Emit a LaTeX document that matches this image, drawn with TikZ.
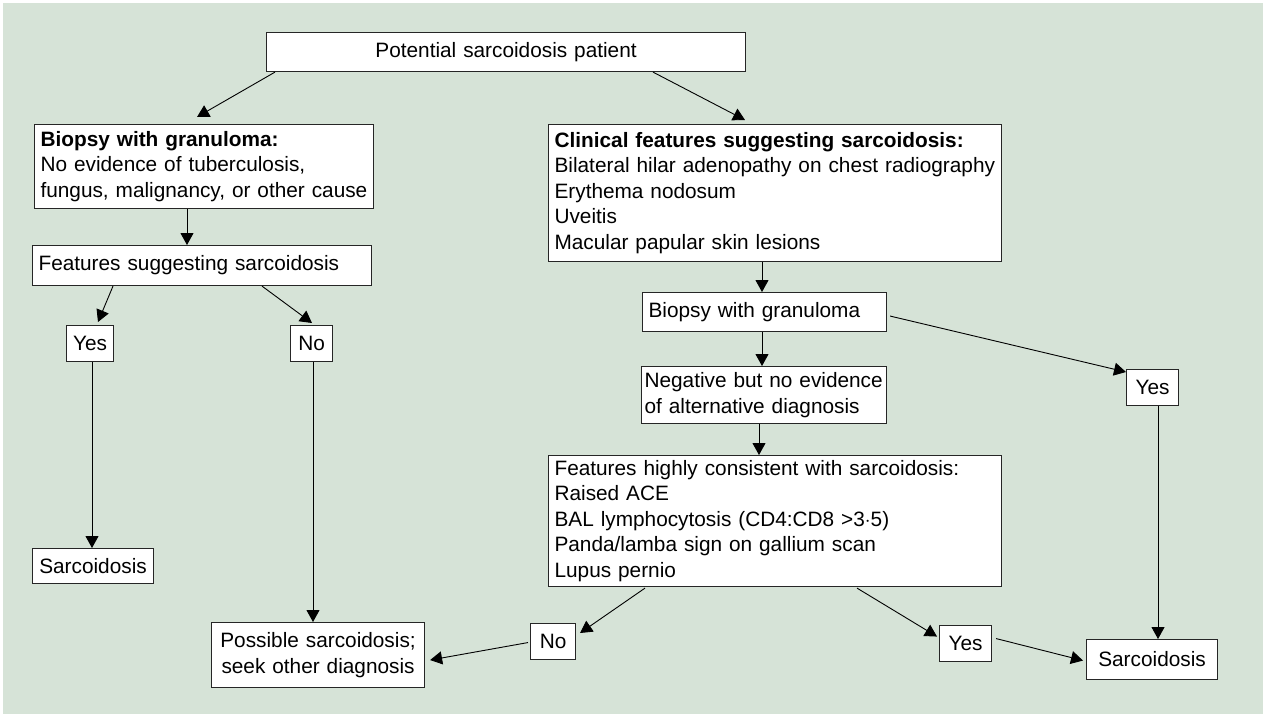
\documentclass[tikz,border=0pt]{standalone}
\usepackage{fontspec}
\setmainfont{Liberation Sans}
\usetikzlibrary{arrows.meta,calc}
\definecolor{bgc}{RGB}{214,227,215}
\newcommand\dgfont{\fontsize{20.8}{25.5}\selectfont}
\begin{document}
\begin{tikzpicture}[x=1pt,y=-1pt,
  bx/.style={draw=black!85, fill=white, line width=1.1pt, inner xsep=0pt, inner ysep=0pt,
    anchor=north west, font=\dgfont, rectangle},
  lbox/.style={bx, align=left},
  cbox/.style={bx, align=center},
  arr/.style={-{Triangle[length=12pt,width=13pt]}, line width=0.9pt, draw=black}]
\useasboundingbox (0,0) rectangle (1268,721);
\fill[bgc] (3,3) rectangle (1263,714);

% nodes
\node[cbox, minimum width=479pt, minimum height=39pt, text width=479pt] (top) at (266,32) {Potential sarcoidosis patient};
\node[lbox, minimum width=339pt, minimum height=84pt, text width=327pt, inner xsep=6pt] (bio) at (34,124)
  {\textbf{Biopsy with granuloma:}\\No evidence of tuberculosis,\\fungus, malignancy, or other cause};
\node[lbox, minimum width=339pt, minimum height=40pt, text width=327pt, inner xsep=6pt] (feat) at (32,245)
  {Features suggesting sarcoidosis};
\node[cbox, minimum width=47pt, minimum height=36pt, text width=47pt] (yesL) at (66,325) {Yes};
\node[cbox, minimum width=42pt, minimum height=36pt, text width=42pt] (noL) at (290,325) {No};
\node[cbox, minimum width=121pt, minimum height=35pt, text width=121pt] (sarcL) at (32,548) {Sarcoidosis};
\node[cbox, minimum width=213pt, minimum height=65pt, text width=213pt] (poss) at (211,622)
  {Possible sarcoidosis;\\seek other diagnosis};
\node[lbox, minimum width=453pt, minimum height=137pt, text width=441pt, inner xsep=6pt] (clin) at (548,124)
  {\textbf{Clinical features suggesting sarcoidosis:}\\Bilateral hilar adenopathy on chest radiography\\Erythema nodosum\\Uveitis\\Macular papular skin lesions};
\node[lbox, minimum width=244pt, minimum height=39pt, text width=232pt, inner xsep=6pt] (bio2) at (642,292)
  {Biopsy with granuloma};
\node[lbox, minimum width=245pt, minimum height=57pt, text width=239pt, inner xsep=3pt] (neg) at (641,366)
  {Negative but no evidence\\of alternative diagnosis};
\node[lbox, minimum width=453pt, minimum height=131pt, text width=441pt, inner xsep=6pt] (high) at (548,455)
  {Features highly consistent with sarcoidosis:\\Raised ACE\\BAL lymphocytosis (CD4:CD8 >3$\cdot$5)\\Panda/lamba sign on gallium scan\\Lupus pernio};
\node[cbox, minimum width=52pt, minimum height=36pt, text width=52pt] (yesR) at (1126,369) {Yes};
\node[cbox, minimum width=45pt, minimum height=36pt, text width=45pt] (noB) at (530,623) {No};
\node[cbox, minimum width=52pt, minimum height=36pt, text width=52pt] (yesB) at (939,625) {Yes};
\node[cbox, minimum width=131pt, minimum height=40pt, text width=131pt] (sarcR) at (1086,639) {Sarcoidosis};

% connectors
\draw[arr] ($(top.south west)+(9,0)$) -- ($(bio.north west)+(163,-7)$);
\draw[arr] ($(top.south west)+(387,0)$) -- ($(clin.north west)+(197,-4)$);
\draw[arr] ($(bio.south west)+(153,0)$) -- ($(feat.north west)+(155,0)$);
\draw[arr] ($(feat.south west)+(81,0)$) -- ($(yesL.north west)+(32,-3)$);
\draw[arr] ($(feat.south west)+(230,0)$) -- ($(noL.north west)+(22,-2)$);
\draw[arr] ($(yesL.south west)+(26,0)$) -- ($(sarcL.north west)+(60,0)$);
\draw[arr] ($(noL.south west)+(23,0)$) -- ($(poss.north west)+(102,0)$);
\draw[arr] ($(clin.south west)+(214,0)$) -- ($(bio2.north west)+(120,0)$);
\draw[arr] ($(bio2.south west)+(120,0)$) -- ($(neg.north west)+(121,0)$);
\draw[arr] ($(bio2.east)+(3,4)$) -- ($(yesR.north west)+(0,3)$);
\draw[arr] ($(neg.south west)+(118,0)$) -- ($(high.north west)+(211,0)$);
\draw[arr] ($(yesR.south west)+(32,0)$) -- ($(sarcR.north west)+(72,0)$);
\draw[arr] ($(high.south west)+(97,1)$) -- ($(noB.north east)+(4,10)$);
\draw[arr] ($(noB.west)+(-2,1)$) -- ($(poss.east)+(5,5)$);
\draw[arr] ($(high.south west)+(309,1)$) -- ($(yesB.west)+(-2,-7)$);
\draw[arr] ($(yesB.east)+(4,-5)$) -- ($(sarcR.west)+(-3,1)$);
\end{tikzpicture}
\end{document}
